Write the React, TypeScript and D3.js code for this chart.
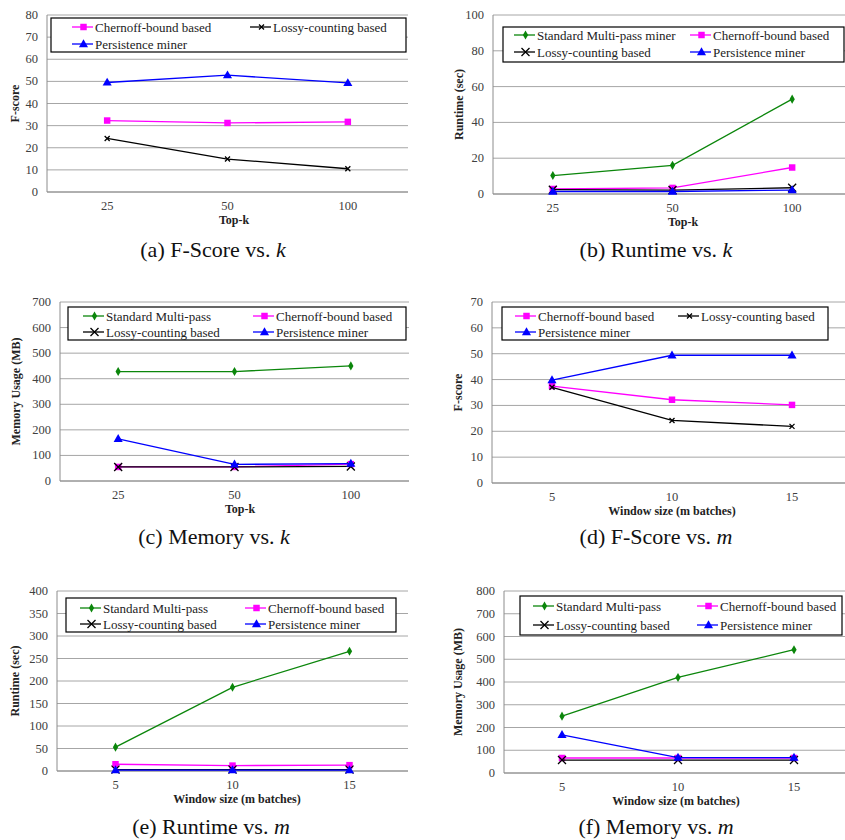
import React from "react";
import * as d3 from "d3";

// ---------- data ----------
const kCategories = ["25", "50", "100"];
const mCategories = ["5", "10", "15"];

// (a) F-score vs k
const fscoreK_chernoff = [32.3, 31.2, 31.7];
const fscoreK_lossy = [24.2, 14.9, 10.5];
const fscoreK_persistence = [49.5, 52.8, 49.3];

// (b) Runtime vs k
const runtimeK_standard = [10.3, 16.0, 53.0];
const runtimeK_chernoff = [2.8, 3.4, 14.8];
const runtimeK_lossy = [2.4, 2.2, 3.5];
const runtimeK_persistence = [1.4, 1.4, 2.2];

// (c) Memory vs k
const memoryK_standard = [428, 428, 450];
const memoryK_chernoff = [55, 55, 66];
const memoryK_lossy = [55, 55, 57];
const memoryK_persistence = [165, 65, 68];

// (d) F-score vs m
const fscoreM_chernoff = [37.5, 32.2, 30.2];
const fscoreM_lossy = [37.0, 24.2, 21.9];
const fscoreM_persistence = [39.8, 49.4, 49.4];

// (e) Runtime vs m
const runtimeM_standard = [53, 186, 266];
const runtimeM_chernoff = [15, 12, 13];
const runtimeM_lossy = [3, 3, 3];
const runtimeM_persistence = [2, 2, 2];

// (f) Memory vs m
const memoryM_standard = [250, 420, 542];
const memoryM_chernoff = [66, 66, 66];
const memoryM_lossy = [57, 57, 57];
const memoryM_persistence = [168, 68, 68];

const yTicksA = d3.range(0, 81, 10);
const yTicksB = d3.range(0, 101, 20);
const yTicksC = d3.range(0, 701, 100);
const yTicksD = d3.range(0, 71, 10);
const yTicksE = d3.range(0, 401, 50);
const yTicksF = d3.range(0, 801, 100);

// ---------- styles ----------
type Kind = "standard" | "chernoff" | "lossy" | "persistence";
const COLORS: Record<Kind, string> = {
  standard: "#0b860b",
  chernoff: "#ff00ff",
  lossy: "#000000",
  persistence: "#0000ff",
};

const FONT = "Liberation Serif, Times New Roman, Times, DejaVu Serif, serif";

interface Series {
  kind: Kind;
  name: string;
  values: number[];
}

interface PanelCfg {
  id: string;
  cats: string[];
  series: Series[];
  legendOrder: Kind[];
  left: number;
  right: number;
  top: number;
  bottom: number;
  yTicks: number[];
  yTitle: string;
  yTitleX: number;
  xTitle: string;
  xTitleX: number;
  caption: string;
  captionVar: string;
  captionX: number;
  captionY: number;
  legendBox: [number, number, number, number];
  legendRows: [number, number];
  legendCols: [number, number];
  xSize: number;
}

function Marker({ kind, x, y, xSize }: { kind: Kind; x: number; y: number; xSize: number }) {
  const c = COLORS[kind];
  if (kind === "lossy") {
    const s = xSize / 2;
    return (
      <path
        d={`M${x - s},${y - s}L${x + s},${y + s}M${x - s},${y + s}L${x + s},${y - s}`}
        stroke={c}
        strokeWidth={1.3}
        fill="none"
      />
    );
  }
  let sym = d3.symbolSquare;
  let size = 42;
  let dy = 0;
  if (kind === "standard") {
    sym = d3.symbolDiamond;
    size = 24;
  } else if (kind === "persistence") {
    sym = d3.symbolTriangle;
    size = 36;
    dy = 0.5;
  }
  const p = d3.symbol().type(sym).size(size)() as string;
  return <path d={p} transform={`translate(${x},${y + dy})`} fill={c} stroke="none" />;
}

function Panel({ cfg }: { cfg: PanelCfg }) {
  const x = d3.scalePoint<string>().domain(cfg.cats).range([cfg.left, cfg.right]).padding(0.5);
  const yMax = cfg.yTicks[cfg.yTicks.length - 1];
  const y = d3.scaleLinear().domain([0, yMax]).range([cfg.bottom, cfg.top]);
  const line = d3
    .line<number>()
    .x((_, i) => x(cfg.cats[i]) as number)
    .y((v) => y(v));
  const [bx0, by0, bx1, by1] = cfg.legendBox;
  const byKind: Record<string, Series> = {};
  cfg.series.forEach((s) => (byKind[s.kind] = s));
  const lineLen = 21;
  return (
    <g>
      {cfg.yTicks.map((t) => (
        <line key={t} x1={cfg.left} x2={cfg.right} y1={y(t)} y2={y(t)} stroke="#a6a6a6" strokeWidth={1} />
      ))}
      <line x1={cfg.left} x2={cfg.left} y1={cfg.top} y2={cfg.bottom} stroke="#8c8c8c" strokeWidth={1} />
      <line x1={cfg.left} x2={cfg.right} y1={cfg.bottom} y2={cfg.bottom} stroke="#8c8c8c" strokeWidth={1} />
      {cfg.yTicks.map((t) => (
        <text
          key={"yl" + t}
          x={cfg.left - 9}
          y={y(t) + 4}
          textAnchor="end"
          fontFamily={FONT}
          fontSize={12.5}
          fill="#404040"
        >
          {t}
        </text>
      ))}
      {cfg.cats.map((c) => (
        <text
          key={"xl" + c}
          x={x(c) as number}
          y={cfg.bottom + 18}
          textAnchor="middle"
          fontFamily={FONT}
          fontSize={12.5}
          fill="#404040"
        >
          {c}
        </text>
      ))}
      <text
        x={cfg.xTitleX}
        y={cfg.bottom + 32}
        textAnchor="middle"
        fontFamily={FONT}
        fontSize={12}
        fontWeight="bold"
        fill="#222"
      >
        {cfg.xTitle}
      </text>
      <text
        transform={`translate(${cfg.yTitleX},${(cfg.top + cfg.bottom) / 2}) rotate(-90)`}
        textAnchor="middle"
        dominantBaseline="central"
        fontFamily={FONT}
        fontSize={12}
        fontWeight="bold"
        fill="#222"
      >
        {cfg.yTitle}
      </text>
      {cfg.series.map((s) => (
        <g key={s.kind}>
          <path d={line(s.values) as string} fill="none" stroke={COLORS[s.kind]} strokeWidth={1.3} />
          {s.values.map((v, i) => (
            <Marker key={i} kind={s.kind} x={x(cfg.cats[i]) as number} y={y(v)} xSize={cfg.xSize} />
          ))}
        </g>
      ))}
      <rect x={bx0} y={by0} width={bx1 - bx0} height={by1 - by0} fill="#fff" stroke="#000" strokeWidth={1.2} />
      {cfg.legendOrder.map((k, i) => {
        const s = byKind[k];
        const row = Math.floor(i / 2);
        const col = i % 2;
        const lx = cfg.legendCols[col];
        const ly = cfg.legendRows[row];
        return (
          <g key={"lg" + k}>
            <line x1={lx} x2={lx + lineLen} y1={ly} y2={ly} stroke={COLORS[k]} strokeWidth={1.3} />
            <Marker kind={k} x={lx + lineLen / 2 + 1} y={ly} xSize={cfg.xSize} />
            <text x={lx + lineLen + 2} y={ly + 4.5} fontFamily={FONT} fontSize={13} fill="#222">
              {s.name}
            </text>
          </g>
        );
      })}
      <text x={cfg.captionX} y={cfg.captionY} textAnchor="middle" fontFamily={FONT} fontSize={22} fill="#111">
        {cfg.caption}
        <tspan fontStyle="italic">{cfg.captionVar}</tspan>
      </text>
    </g>
  );
}

const N_STD = "Standard Multi-pass";
const N_CH = "Chernoff-bound based";
const N_LC = "Lossy-counting based";
const N_PM = "Persistence miner";

const panels: PanelCfg[] = [
  {
    id: "a",
    cats: kCategories,
    series: [
      { kind: "chernoff", name: N_CH, values: fscoreK_chernoff },
      { kind: "lossy", name: N_LC, values: fscoreK_lossy },
      { kind: "persistence", name: N_PM, values: fscoreK_persistence },
    ],
    legendOrder: ["chernoff", "lossy", "persistence"],
    left: 47, right: 408, top: 15, bottom: 192,
    yTicks: yTicksA, yTitle: "F-score", yTitleX: 15,
    xTitle: "Top-k", xTitleX: 234,
    caption: "(a)  F-Score vs. ", captionVar: "k", captionX: 213, captionY: 257,
    legendBox: [51, 18, 406, 52], legendRows: [27, 44], legendCols: [72, 250], xSize: 5,
  },
  {
    id: "b",
    cats: kCategories,
    series: [
      { kind: "standard", name: N_STD + " miner", values: runtimeK_standard },
      { kind: "chernoff", name: N_CH, values: runtimeK_chernoff },
      { kind: "lossy", name: N_LC, values: runtimeK_lossy },
      { kind: "persistence", name: N_PM, values: runtimeK_persistence },
    ],
    legendOrder: ["standard", "chernoff", "lossy", "persistence"],
    left: 493, right: 852, top: 15, bottom: 194,
    yTicks: yTicksB, yTitle: "Runtime (sec)", yTitleX: 459,
    xTitle: "Top-k", xTitleX: 683,
    caption: "(b)  Runtime vs. ", captionVar: "k", captionX: 656, captionY: 257,
    legendBox: [503, 27, 844, 62], legendRows: [35, 52], legendCols: [514, 690], xSize: 8,
  },
  {
    id: "c",
    cats: kCategories,
    series: [
      { kind: "standard", name: N_STD, values: memoryK_standard },
      { kind: "chernoff", name: N_CH, values: memoryK_chernoff },
      { kind: "lossy", name: N_LC, values: memoryK_lossy },
      { kind: "persistence", name: N_PM, values: memoryK_persistence },
    ],
    legendOrder: ["standard", "chernoff", "lossy", "persistence"],
    left: 60, right: 409, top: 302, bottom: 481,
    yTicks: yTicksC, yTitle: "Memory Usage (MB)", yTitleX: 16,
    xTitle: "Top-k", xTitleX: 240,
    caption: "(c)  Memory vs. ", captionVar: "k", captionX: 214, captionY: 544,
    legendBox: [68, 307, 406, 340], legendRows: [316, 332], legendCols: [83, 253], xSize: 8,
  },
  {
    id: "d",
    cats: mCategories,
    series: [
      { kind: "chernoff", name: N_CH, values: fscoreM_chernoff },
      { kind: "lossy", name: N_LC, values: fscoreM_lossy },
      { kind: "persistence", name: N_PM, values: fscoreM_persistence },
    ],
    legendOrder: ["chernoff", "lossy", "persistence"],
    left: 492, right: 852, top: 302, bottom: 483,
    yTicks: yTicksD, yTitle: "F-score", yTitleX: 458,
    xTitle: "Window size (m batches)", xTitleX: 672,
    caption: "(d)  F-Score vs. ", captionVar: "m", captionX: 656, captionY: 544,
    legendBox: [502, 307, 828, 340], legendRows: [316, 332], legendCols: [515, 678], xSize: 5,
  },
  {
    id: "e",
    cats: mCategories,
    series: [
      { kind: "standard", name: N_STD, values: runtimeM_standard },
      { kind: "chernoff", name: N_CH, values: runtimeM_chernoff },
      { kind: "lossy", name: N_LC, values: runtimeM_lossy },
      { kind: "persistence", name: N_PM, values: runtimeM_persistence },
    ],
    legendOrder: ["standard", "chernoff", "lossy", "persistence"],
    left: 57, right: 408, top: 591, bottom: 771,
    yTicks: yTicksE, yTitle: "Runtime (sec)", yTitleX: 15,
    xTitle: "Window size (m batches)", xTitleX: 237,
    caption: "(e)  Runtime vs. ", captionVar: "m", captionX: 211, captionY: 834,
    legendBox: [66, 598, 396, 632], legendRows: [608, 624], legendCols: [80, 245], xSize: 8,
  },
  {
    id: "f",
    cats: mCategories,
    series: [
      { kind: "standard", name: N_STD, values: memoryM_standard },
      { kind: "chernoff", name: N_CH, values: memoryM_chernoff },
      { kind: "lossy", name: N_LC, values: memoryM_lossy },
      { kind: "persistence", name: N_PM, values: memoryM_persistence },
    ],
    legendOrder: ["standard", "chernoff", "lossy", "persistence"],
    left: 504, right: 852, top: 591, bottom: 773,
    yTicks: yTicksF, yTitle: "Memory Usage (MB)", yTitleX: 458,
    xTitle: "Window size (m batches)", xTitleX: 676,
    caption: "(f)  Memory vs. ", captionVar: "m", captionX: 656, captionY: 834,
    legendBox: [520, 596, 842, 635], legendRows: [606, 625], legendCols: [533, 697], xSize: 8,
  },
];

export default function App() {
  return (
    <svg
      width={845}
      height={840}
      viewBox="0 0 845 840"
      style={{ position: "absolute", left: 0, top: 0, background: "#fff" }}
    >
      <rect x={0} y={0} width={845} height={840} fill="#fff" />
      {panels.map((p) => (
        <Panel key={p.id} cfg={p} />
      ))}
    </svg>
  );
}
